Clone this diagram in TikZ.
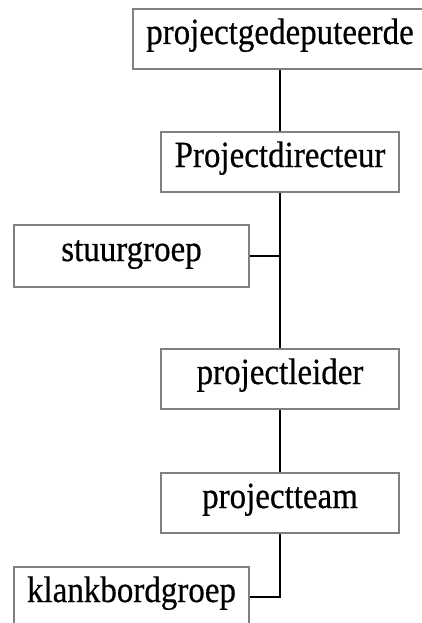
\documentclass[tikz,border=0pt]{standalone}
\usepackage{fontspec}
\setmainfont{Liberation Serif}[FakeBold=0.5]
\newfontfamily\boxfont{Liberation Serif}[FakeBold=0.5]
\newcommand\tallertext[1]{\scalebox{1}[1.12]{#1}}
\definecolor{boxgray}{RGB}{128,128,128}
\tikzset{
  orgbox/.style={draw=boxgray, line width=2pt, fill=white, rectangle, inner sep=0pt,
    minimum height=60pt, text height=22pt, text depth=12pt,
    font=\boxfont\fontsize{33}{33}\selectfont},
  wide/.style={orgbox, minimum width=238pt},
  side/.style={orgbox, minimum width=235pt},
  link/.style={draw=black, line width=2.2pt}
}
\begin{document}
\begin{tikzpicture}[x=1pt,y=-1pt]
\clip (0,0) rectangle (422,623);
\fill[white] (0,0) rectangle (422,623);
\node[orgbox, minimum width=294pt] (gedep) at (280,39) {\tallertext{projectgedeputeerde}};
\node[wide] (dir) at (280,162) {\tallertext{Projectdirecteur}};
\node[side, minimum height=62pt] (stuur) at (131.5,256) {\tallertext{stuurgroep}};
\node[wide] (leider) at (280,379) {\tallertext{projectleider}};
\node[wide] (team) at (280,503) {\tallertext{projectteam}};
\node[side] (klank) at (131.5,597) {\tallertext{klankbordgroep}};
\draw[link] (gedep.south) -- (dir.north);
\draw[link] (dir.south) -- (leider.north);
\draw[link] (stuur.east) -- (stuur.east -| dir.south);
\draw[link] (leider.south) -- (team.north);
\draw[link] (team.south) |- (klank.east);
\end{tikzpicture}
\end{document}
